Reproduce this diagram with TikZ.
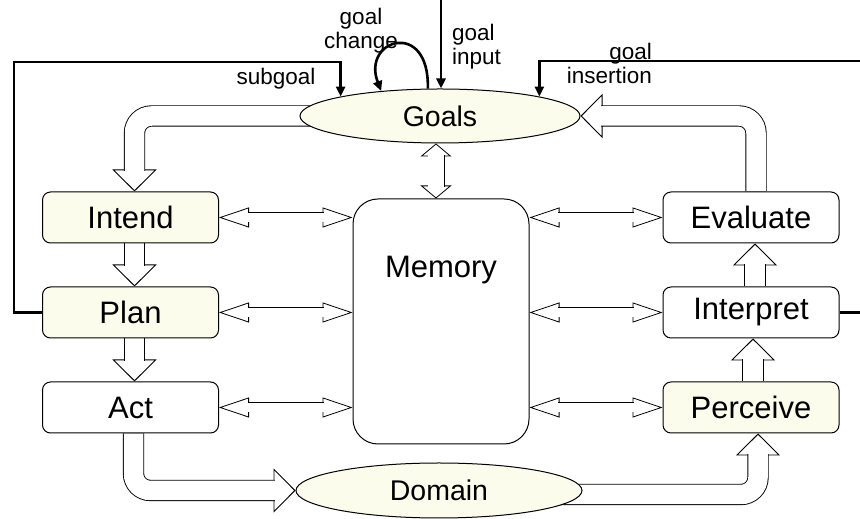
\documentclass[tikz,border=0pt]{standalone}
\usepackage{fontspec}
\setmainfont{Liberation Sans}
\usetikzlibrary{arrows.meta,backgrounds,shapes.geometric}
\definecolor{cream}{RGB}{252,252,236}
\newcommand{\hollowarrow}[2]{\draw[#1tip] #2; \draw[#1shaft] #2;}

\begin{document}
\begin{tikzpicture}[x=1pt,y=1pt,
	box/.style={draw,line width=1pt,rounded corners=8pt,minimum width=176pt,minimum height=51pt,inner sep=0pt,font=\fontsize{31}{33}\selectfont},
	oval/.style={draw,ellipse,line width=1pt,fill=cream,inner sep=0pt,font=\fontsize{28.5}{30}\selectfont},
	note/.style={inner sep=0pt,font=\fontsize{22.5}{24}\selectfont},
	feedback/.style={line width=2.6pt,-{Triangle[length=10pt,width=9pt]}},
	bigtip/.style={line width=.9pt,rounded corners=17pt,-{Triangle[length=22pt,width=44pt,fill=white]}},
	bigshaft/.style={line width=.9pt,rounded corners=17pt,double=white,double distance=19.5pt,shorten >=20.6pt},
	twotip/.style={line width=.8pt,-{Triangle[length=30pt,width=20pt,fill=white]}},
	twoshaft/.style={line width=.8pt,double=white,double distance=8.4pt,shorten >=28.6pt},
	uptip/.style={line width=.8pt,-{Triangle[length=13pt,width=31pt,fill=white]}},
	upshaft/.style={line width=.8pt,double=white,double distance=15.4pt,shorten >=11.8pt}]
	\useasboundingbox (0,0) rectangle (860,519);
	\node[oval,minimum width=280pt,minimum height=54pt] (goals) at (440,403) {Goals};
	\node[box,fill=cream] (intend) at (130.5,301.5) {Intend};
	\node[box,fill=cream] (plan) at (130.5,206.5) {Plan};
	\node[box,fill=white] (act) at (130.5,111.5) {Act};
	\node[box,fill=white] (evaluate) at (751,301.5) {Evaluate};
	\node[box,fill=white] (interpret) at (751,206.5) {Interpret};
	\node[box,fill=cream] (perceive) at (751,111.5) {Perceive};
	\node[draw,fill=white,line width=1pt,rounded corners=25pt,minimum width=176pt,minimum height=245pt] (memory) at (441,197.5) {};
	\node[font=\fontsize{31}{33}\selectfont] (memlabel) at (441,249) {Memory};
	\node[oval,minimum width=286pt,minimum height=55pt] (domain) at (439,28.5) {Domain};
	
	\begin{pgfonlayer}{background}
		\hollowarrow{big}{(goals.center) -| ([xshift=4pt]intend.north)}
		\hollowarrow{big}{([xshift=4pt]intend.south) -- ([xshift=4pt]plan.north)}
		\hollowarrow{big}{([xshift=4pt]plan.south) -- ([xshift=4pt]act.north)}
		\hollowarrow{big}{([xshift=3pt]act.south) |- (domain.west)}
		\hollowarrow{big}{([yshift=-4pt]domain.center) -| ([xshift=7pt]perceive.south)}
		\hollowarrow{big}{([xshift=2pt]perceive.north) -- ([xshift=2pt]interpret.south)}
		\hollowarrow{big}{([xshift=4pt]interpret.north) -- ([xshift=4pt]evaluate.south)}
		\hollowarrow{big}{([xshift=5pt]evaluate.north) |- (goals.east)}
		\foreach \b in {intend,plan,act} {
			\path (\b.east) -- coordinate[midway] (mid) (\b.east -| memory.west);
			\hollowarrow{two}{(mid) -- (\b.east)}
			\hollowarrow{two}{(mid) -- (\b.east -| memory.west)}
		}
		\foreach \b in {evaluate,interpret,perceive} {
			\path (\b.west) -- coordinate[midway] (mid) (\b.west -| memory.east);
			\hollowarrow{two}{(mid) -- (\b.west)}
			\hollowarrow{two}{(mid) -- (\b.west -| memory.east)}
		}
		\path ([xshift=-4pt]goals.south) -- coordinate[midway] (mid) ([xshift=-4pt]goals.south |- memory.north);
		\hollowarrow{up}{(mid) -- ([xshift=-4pt]goals.south)}
		\hollowarrow{up}{(mid) -- ([xshift=-4pt]goals.south |- memory.north)}
	\end{pgfonlayer}
	
	\coordinate (subturn) at (14,457);
	\coordinate (insturn) at (862,458);
	\coordinate (goalin) at (441,521);
	\draw[feedback] (plan.west) -| (subturn) -| (goals.north west);
	\draw[feedback] (interpret.east) -| (insturn) -| (goals.north east);
	\draw[feedback] (goalin) -- (goalin |- goals.north);
	\draw[feedback] (goals.114) .. controls +(2,70) and +(-20,52) .. (goals.157);
	
	\node[note] (subgoallbl) at (276,440) {subgoal};
	\node[note,align=center] (changelbl) at (361,488) {goal\\change};
	\node[note,align=left,anchor=west] (inputlbl) at (452,472) {goal\\input};
	\node[note,align=right,anchor=east] (insertlbl) at (652,456) {goal\\insertion};
\end{tikzpicture}
\end{document}
